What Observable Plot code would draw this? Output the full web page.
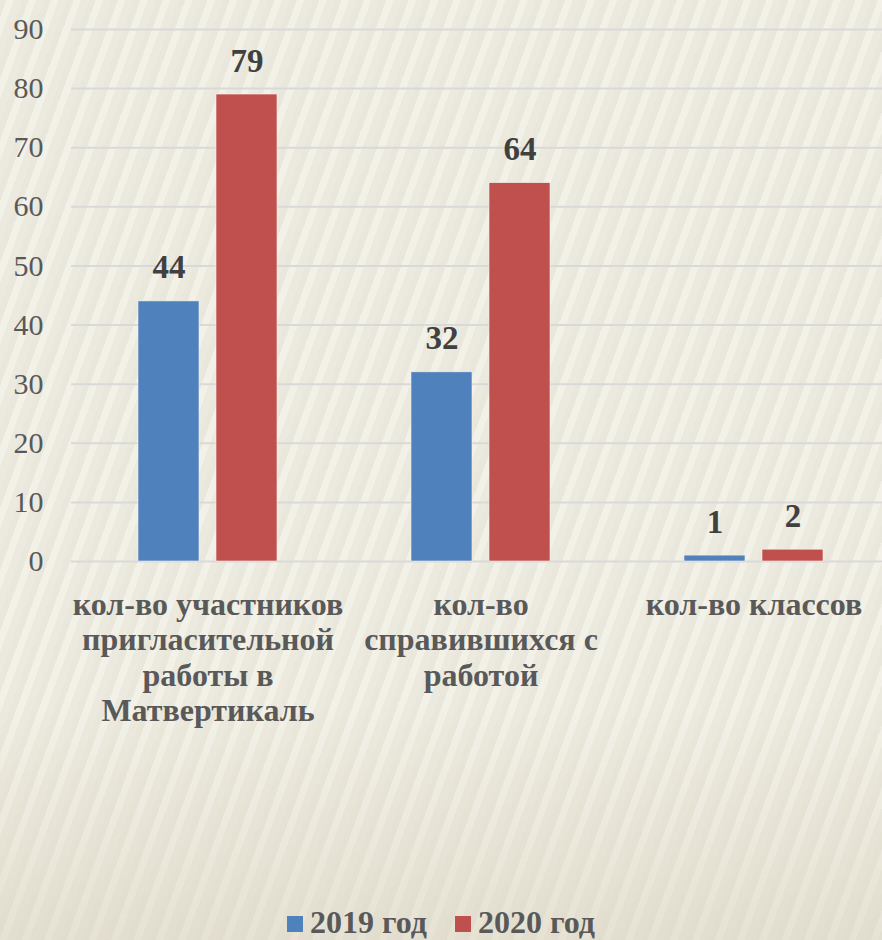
<!DOCTYPE html>
<html>
<head>
<meta charset="utf-8">
<script src="https://cdn.jsdelivr.net/npm/d3@7"></script>
<script src="https://cdn.jsdelivr.net/npm/@observablehq/plot@0.6"></script>
<style>
  html, body { margin: 0; padding: 0; }
  body {
    width: 882px; height: 940px; overflow: hidden; position: relative;
    background-color: #efede2;
    background-image:
      linear-gradient(180deg, rgba(239,237,226,0) 0%, rgba(239,237,226,0) 75%, rgba(215,208,188,0.45) 100%),
      repeating-linear-gradient(110deg, rgba(200,196,180,0.14) 0px, rgba(200,196,180,0.14) 6px, rgba(255,255,250,0.22) 6px, rgba(255,255,250,0.22) 13px, rgba(210,205,190,0.10) 13px, rgba(210,205,190,0.10) 21px);
  }
  #chart { position: absolute; left: 0; top: 0; }
  #chart text { font-family: "Liberation Serif", "Times New Roman", serif; }
  #legend {
    position: absolute; left: 0; top: 904px; width: 882px; text-align: center;
    font-family: "Liberation Serif", "Times New Roman", serif; font-weight: bold;
    font-size: 32px; line-height: 36px; color: #595959; white-space: nowrap;
  }
  #legend .item { display: inline-block; margin: 0 14px; }
  #legend .sw { display: inline-block; width: 16px; height: 16px; margin-right: 7px; vertical-align: 1px; }
</style>
</head>
<body>
<div id="chart"></div>
<div id="legend"></div>
<script>
const categories = ["участники", "справившиеся", "классы"];
const categoryLabels = [
  "кол-во участников\nпригласительной\nработы в\nМатвертикаль",
  "кол-во\nсправившихся с\nработой",
  "кол-во классов"
];
const years = ["2019 год", "2020 год"];
const values2019 = [44, 32, 1];
const values2020 = [79, 64, 2];
const yTicks = [0, 10, 20, 30, 40, 50, 60, 70, 80, 90];
const colors = ["#4f81bd", "#c0504d"];

const data = [];
categories.forEach((c, i) => {
  data.push({cat: c, year: years[0], value: values2019[i]});
  data.push({cat: c, year: years[1], value: values2020[i]});
});
const labelOf = new Map(categories.map((c, i) => [c, categoryLabels[i]]));

const serif = "'Liberation Serif', 'Times New Roman', serif";

const chart = Plot.plot({
  width: 882,
  height: 904,
  marginTop: 29,
  marginBottom: 343,
  marginLeft: 71,
  marginRight: 0,
  style: {background: "transparent", fontFamily: serif, color: "#595959", overflow: "visible"},
  fx: {domain: categories, range: [71, 890], padding: 0},
  x: {domain: years, paddingInner: 17 / 78, paddingOuter: 67 / 78, axis: null},
  y: {domain: [0, 90]},
  color: {domain: years, range: colors},
  marks: [
    Plot.gridY(yTicks, {stroke: "#d9d9d9", strokeOpacity: 1, strokeWidth: 2}),
    Plot.axisY(yTicks, {tickSize: 0, tickPadding: 28, fontSize: 30, fontFamily: serif, fill: "#595959", label: null}),
    Plot.axisFx({
      anchor: "bottom", fontFamily: serif,
      tickSize: 0, tickPadding: 28, fontSize: 32, fontWeight: "bold", fill: "#595959",
      lineHeight: 1.11, label: null, tickFormat: d => labelOf.get(d)
    }),
    Plot.barY(data, {fx: "cat", x: "year", y: "value", fill: "year", stroke: "#f4f1ea", strokeWidth: 0.6}),
    Plot.text(data, {
      fx: "cat", x: "year", y: "value", text: d => String(d.value), fontFamily: serif,
      lineAnchor: "bottom", dy: -23, fontSize: 33, fontWeight: "bold", fill: "#404040"
    })
  ]
});
document.getElementById("chart").appendChild(chart);

const legend = document.getElementById("legend");
years.forEach((y, i) => {
  const item = document.createElement("span");
  item.className = "item";
  const sw = document.createElement("span");
  sw.className = "sw";
  sw.style.background = colors[i];
  item.appendChild(sw);
  item.appendChild(document.createTextNode(y));
  legend.appendChild(item);
});
</script>
</body>
</html>
